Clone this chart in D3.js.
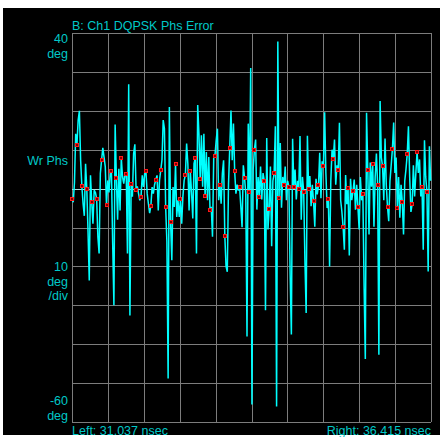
<!DOCTYPE html>
<html>
<head>
<meta charset="utf-8">
<script src="https://cdn.jsdelivr.net/npm/d3@7"></script>
<style>
  body { margin: 0; background: #fff; }
  svg text { font-family: "Liberation Sans", Arial, sans-serif; font-size: 12.5px; fill: #00c8c8; }
</style>
</head>
<body>
<div id="chart"></div>
<script>
// Data

var title = "B: Ch1 DQPSK Phs Error";
var leftLabel = "Left: 31.037 nsec";
var rightLabel = "Right: 36.415 nsec";
var timeStart = 31.037, timeEnd = 36.415;   // nsec
var yTop = 40, yBottom = -60, yPerDiv = 10; // deg
var xDivs = 10;

var samplesPerSymbol = 4;
var symbolPeriod = 0.07385; // nsec

// phase error trace (deg), 4 samples per symbol, first of each row is the symbol point
var trace = [
  -2.8, -3.5, 1.5, 14.1,
  11.3, 17.6, 20.0, 7.3,
  0.6, -3.9, -7.0, 6.4,
  0.0, -11.0, -23.6, 3.4,
  -3.4, -9.0, -0.4, -1.0,
  -2.6, -12.4, -16.7, 3.9,
  7.3, 10.5, 8.1, 5.6,
  -4.3, 2.1, -1.0, 3.9,
  4.4, -14.0, -30.0, 16.5,
  2.7, -8.0, 5.1, -5.6,
  7.9, 3.0, 1.3, 3.9,
  3.8, -16.7, 26.8, -32.6,
  1.1, -2.1, 9.0, 11.4,
  -0.3, 0.6, -1.3, -3.0,
  -2.1, 3.4, 0.4, 3.9,
  4.4, -1.3, -3.9, -6.3,
  -4.4, 0.4, -1.3, 1.0,
  2.3, 3.4, -5.6, 2.1,
  4.7, 7.3, 17.6, 15.4,
  -4.8, -13.7, -48.8, 21.0,
  -8.7, -18.4, 0.4, -4.7,
  6.4, -7.3, -3.0, -7.3,
  -2.8, -9.0, -2.0, 2.1,
  3.5, 11.6, 6.4, -5.6,
  4.5, -1.0, -7.7, 6.4,
  7.9, -16.7, 21.5, 14.1,
  2.4, 13.7, 0.5, 14.1,
  -2.0, 9.4, -3.0, 8.1,
  -5.6, -4.7, -12.4, 8.1,
  8.5, 12.4, 15.4, -3.0,
  0.9, -3.9, 3.9, 7.3,
  -12.2, -20.0, -21.4, 1.3,
  10.5, 20.1, 7.3, 16.7,
  4.4, -1.3, 1.0, -0.5,
  0.4, -4.7, -9.9, 6.0,
  2.8, -1.3, -38.0, 16.7,
  -1.0, 31.0, -55.5, 5.0,
  10.0, 12.6, -5.4, 3.0,
  -2.1, 5.7, -2.8, 4.0,
  2.0, -31.3, 13.0, -10.5,
  -5.3, 5.7, -14.8, 2.0,
  3.9, 16.0, -56.0, 37.8,
  -2.4, 11.7, -4.9, 3.0,
  0.8, 5.7, -3.0, 2.0,
  0.4, -22.0, -37.5, 12.8,
  0.4, 4.9, -2.8, 2.0,
  -0.1, 13.5, -8.0, 3.0,
  -0.9, -18.7, -32.0, 13.6,
  -0.1, 3.2, -4.5, 1.0,
  -3.3, -9.8, 2.5, -1.5,
  0.8, 9.2, -2.5, 7.0,
  5.7, 19.6, 4.0, -5.0,
  -2.7, -20.0, 2.0, 10.0,
  7.7, 12.6, 1.0, 6.0,
  4.8, 16.9, -3.0, -6.0,
  -9.9, -15.7, 3.5, -4.0,
  0.2, -17.2, 2.5, -3.0,
  -0.7, 2.3, -5.4, 1.0,
  -4.7, -10.5, 3.0, -3.0,
  -1.3, -25.0, -43.8, 19.5,
  4.8, -11.8, 6.7, 0.5,
  6.2, -9.8, 3.0, 9.0,
  0.8, -42.7, 22.5, 8.0,
  5.7, -3.0, 12.9, 1.0,
  -4.7, -8.4, 2.0, 6.0,
  10.3, 17.0, 4.0, 8.0,
  -5.0, 3.0, -7.5, 1.0,
  -3.5, -11.8, 2.0, 5.0,
  8.9, 16.0, 3.0, -6.0,
  -3.9, 6.0, -2.0, 4.0,
  9.5, 4.0, 7.5, -2.0,
  0.5, -15.7, 12.4, 3.0,
  -0.9, -21.3, 10.9, 2.0
];

var labelTop = ["40", "deg"];
var labelMid = ["Wr Phs"];
var labelScale = ["10", "deg", "/div"];
var labelBottom = ["-60", "deg"];

var W = 443, H = 437;
var plot = {left: 72, top: 33, right: 431, bottom: 422};

var x = d3.scaleLinear()
    .domain([timeStart, timeEnd])
    .range([plot.left, plot.right]);

var y = d3.scaleLinear()
    .domain([yBottom, yTop])
    .range([plot.bottom, plot.top]);

var svg = d3.select("#chart").append("svg")
    .attr("width", W)
    .attr("height", H);

// black screen
svg.append("rect")
    .attr("x", 3).attr("y", 8)
    .attr("width", 437).attr("height", 427)
    .attr("fill", "#000");

// grid
var xTicks = d3.range(xDivs + 1).map(function(i) {
  return timeStart + i * (timeEnd - timeStart) / xDivs;
});
var yTicks = d3.range(yBottom, yTop + 1, yPerDiv);

var grid = svg.append("g").attr("shape-rendering", "crispEdges");

grid.selectAll(".vline")
    .data(xTicks)
    .enter().append("line")
    .attr("x1", function(d) { return Math.round(x(d)) + 0.5; })
    .attr("x2", function(d) { return Math.round(x(d)) + 0.5; })
    .attr("y1", plot.top)
    .attr("y2", plot.bottom)
    .attr("stroke", "#7c7c7c");

grid.selectAll(".hline")
    .data(yTicks)
    .enter().append("line")
    .attr("x1", plot.left)
    .attr("x2", plot.right)
    .attr("y1", function(d) { return Math.round(y(d)) + 0.5; })
    .attr("y2", function(d) { return Math.round(y(d)) + 0.5; })
    .attr("stroke", function(d) { return d === 0 ? "#a8dcdc" : "#7c7c7c"; });

// trace
var line = d3.line()
    .x(function(d, i) { return x(timeStart + i * symbolPeriod / samplesPerSymbol); })
    .y(function(d) { return y(d); });

var traceG = svg.append("g");

traceG.append("path")
    .datum(trace)
    .attr("d", line)
    .attr("fill", "none")
    .attr("stroke", "#00ffff")
    .attr("stroke-width", 1.5)
    .attr("stroke-linejoin", "bevel");

// symbol points
var symbols = trace
    .map(function(v, i) { return {t: timeStart + i * symbolPeriod / samplesPerSymbol, v: v, i: i}; })
    .filter(function(d) { return d.i % samplesPerSymbol === 0; });

traceG.selectAll(".sym")
    .data(symbols)
    .enter().append("rect")
    .attr("class", "sym")
    .attr("x", function(d) { return Math.round(x(d.t)) - 1.5; })
    .attr("y", function(d) { return Math.round(y(d.v)) - 1.5; })
    .attr("width", 3)
    .attr("height", 3)
    .attr("fill", "#800000")
    .attr("stroke", "#ff1818")
    .attr("stroke-width", 1);

// labels
svg.append("text")
    .attr("x", plot.left)
    .attr("y", 30)
    .text(title);

svg.append("text")
    .attr("x", plot.left)
    .attr("y", 435)
    .text(leftLabel);

svg.append("text")
    .attr("x", plot.right)
    .attr("y", 435)
    .attr("text-anchor", "end")
    .text(rightLabel);

function stack(lines, y0) {
  svg.append("g").selectAll("text")
    .data(lines)
    .enter().append("text")
    .attr("x", 68)
    .attr("y", function(d, i) { return y0 + i * 14.5; })
    .attr("text-anchor", "end")
    .text(function(d) { return d; });
}

stack(labelTop, y(yTop) + 10);
stack(labelMid, y(yTop - 3 * yPerDiv) + 15);
stack(labelScale, y(yTop - 6 * yPerDiv) + 5);
stack(labelBottom, y(yBottom) - 17);
</script>
</body>
</html>
